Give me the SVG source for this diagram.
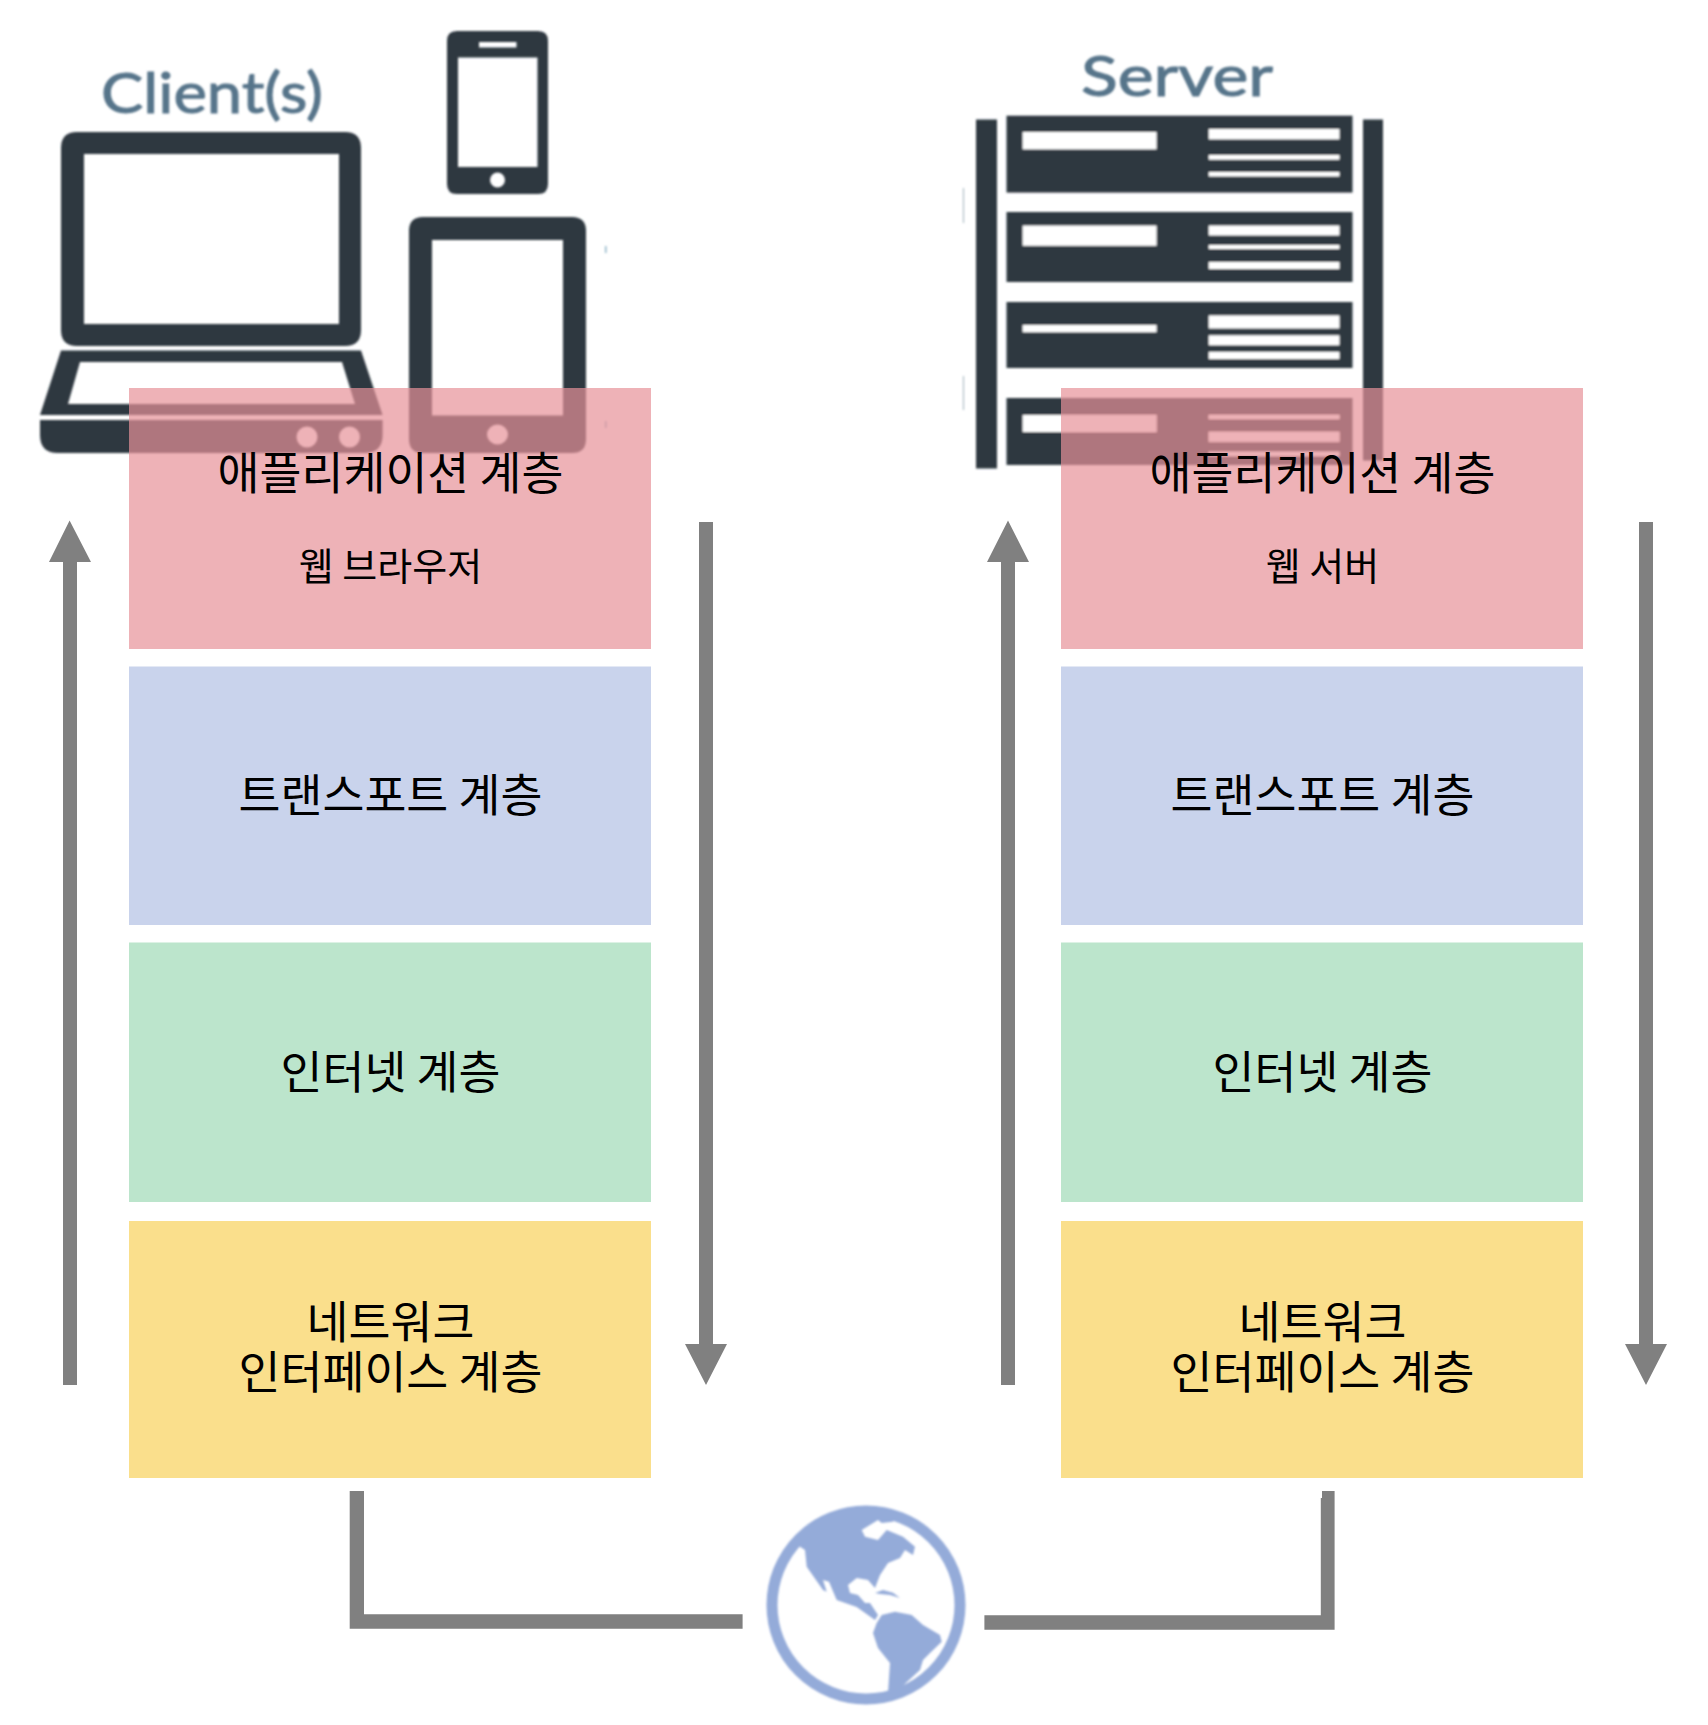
<svg xmlns="http://www.w3.org/2000/svg" xmlns:xlink="http://www.w3.org/1999/xlink" width="1708" height="1725" viewBox="0 0 1708 1725">
<style>
.ic{fill:#2d3740}
.hole{fill:#fff}
.lb{font-family:"Noto Sans CJK KR","Noto Sans",sans-serif;font-size:45.6px;fill:#000;text-anchor:middle}
.sm{font-size:38px}
.cap{font-family:"Lato","Open Sans",sans-serif;font-size:56px;fill:#56748a;stroke:#56748a;stroke-width:1;text-anchor:middle}
.ar{fill:#808080}
.gl{fill:#94abd9}
.pink{fill:#e79298;fill-opacity:.7}
.blue{fill:#c9d3ec}
.green{fill:#bce5cc}
.yellow{fill:#fadf8c}
</style>
<defs>
<filter id="soft" x="-5%" y="-5%" width="110%" height="110%"><feGaussianBlur stdDeviation="0.8"/></filter>
<g id="stack">
<rect class="pink" x="129" y="388" width="522" height="261"/>
<rect class="blue" x="129" y="666.500" width="522" height="258.500"/>
<rect class="green" x="129" y="942.500" width="522" height="259.500"/>
<rect class="yellow" x="129" y="1221" width="522" height="257"/>
</g>
</defs>
<g id="client-icons" filter="url(#soft)">
<text class="cap" x="212" y="113" textLength="222" lengthAdjust="spacingAndGlyphs">Client(s)</text>
<path class="ic" fill-rule="evenodd" d="M77 132H345Q361 132 361 148V330Q361 346 345 346H77Q61 346 61 330V148Q61 132 77 132ZM84 154V324H339V154Z"/>
<path class="ic" fill-rule="evenodd" d="M61 350.500H361L382.600 415H40ZM80 362L68 404H355L342 362Z"/>
<path class="ic" fill-rule="evenodd" d="M40 420H382.600V435Q382.600 453 364 453H58Q40 453 40 435ZM317.500 437A10.500 10.500 0 1 0 296.500 437A10.500 10.500 0 1 0 317.500 437ZM360 437A10.500 10.500 0 1 0 339 437A10.500 10.500 0 1 0 360 437Z"/>
<path class="ic" fill-rule="evenodd" d="M457 31H538Q548 31 548 41V184Q548 194 538 194H457Q447 194 447 184V41Q447 31 457 31ZM479 42V47.500H516.500V42ZM458 57.400V167H537.500V57.400ZM505 180A7.500 7.500 0 1 0 490 180A7.500 7.500 0 1 0 505 180Z"/>
<path class="ic" fill-rule="evenodd" d="M423 217H572Q586 217 586 231V439Q586 453 572 453H423Q409 453 409 439V231Q409 217 423 217ZM432 240V415.600H563V240ZM508 434.500A10.500 10 0 1 0 487 434.500A10.500 10 0 1 0 508 434.500Z"/>
<rect x="605" y="246" width="1.500" height="7" fill="#8fb4c8"/>
<rect x="605" y="421" width="1.500" height="7" fill="#8fb4c8"/>
</g>
<g id="server-icons" filter="url(#soft)">
<text class="cap" x="1177" y="96" textLength="192" lengthAdjust="spacingAndGlyphs">Server</text>
<rect class="ic" x="976" y="119.500" width="21" height="349"/>
<rect class="ic" x="1363" y="119.500" width="20" height="341"/>
<rect x="963" y="188" width="1" height="35" fill="#9fb0bb"/>
<rect x="963" y="376" width="1" height="34" fill="#9fb0bb"/>
<rect class="ic" x="1006.500" y="115.700" width="346" height="76.900"/>
<rect class="ic" x="1006.500" y="212" width="346" height="70"/>
<rect class="ic" x="1006.500" y="302" width="346" height="66"/>
<rect class="ic" x="1006.500" y="398" width="346" height="67"/>
<rect class="hole" x="1022.600" y="132" width="134" height="17.400"/>
<rect class="hole" x="1208.700" y="129" width="130.800" height="10.400"/>
<rect class="hole" x="1208.700" y="155" width="130.800" height="4.700"/>
<rect class="hole" x="1208.700" y="172" width="130.800" height="4.500"/>
<rect class="hole" x="1022.600" y="225.500" width="134" height="20.300"/>
<rect class="hole" x="1208.700" y="225.500" width="130.800" height="10"/>
<rect class="hole" x="1208.700" y="245" width="130.800" height="4"/>
<rect class="hole" x="1208.700" y="262" width="130.800" height="7"/>
<rect class="hole" x="1022.600" y="325" width="134" height="7.300"/>
<rect class="hole" x="1208.700" y="315.400" width="130.800" height="13.100"/>
<rect class="hole" x="1208.700" y="335.300" width="130.800" height="10"/>
<rect class="hole" x="1208.700" y="351.800" width="130.800" height="7.200"/>
<rect class="hole" x="1022.600" y="415" width="134" height="17"/>
<rect class="hole" x="1208.700" y="415" width="130.800" height="4"/>
<rect class="hole" x="1208.700" y="431.800" width="130.800" height="10"/>
<rect class="hole" x="1208.700" y="451.700" width="130.800" height="4.300"/>
</g>
<g id="client-stack">
<use xlink:href="#stack" href="#stack"/>
<text class="lb" x="390.500" y="490">애플리케이션 계층</text>
<text class="lb sm" x="390.500" y="580">웹 브라우저</text>
<text class="lb" x="390.500" y="812">트랜스포트 계층</text>
<text class="lb" x="390.500" y="1089">인터넷 계층</text>
<text class="lb" x="390.500" y="1339">네트워크</text>
<text class="lb" x="390.500" y="1389">인터페이스 계층</text>
</g>
<g id="server-stack">
<use xlink:href="#stack" href="#stack" x="932"/>
<text class="lb" x="1322.500" y="490">애플리케이션 계층</text>
<text class="lb sm" x="1322.500" y="580">웹 서버</text>
<text class="lb" x="1322.500" y="812">트랜스포트 계층</text>
<text class="lb" x="1322.500" y="1089">인터넷 계층</text>
<text class="lb" x="1322.500" y="1339">네트워크</text>
<text class="lb" x="1322.500" y="1389">인터페이스 계층</text>
</g>
<g id="globe" filter="url(#soft)">
<circle cx="866" cy="1605" r="94" fill="none" stroke="#94abd9" stroke-width="11"/>
<path class="gl" d="M800 1546.700L805 1550L806.700 1566.700L823 1590L826.700 1591.700L823 1580L829 1581.700L836.700 1600L856.700 1607L875 1620L878 1615L870 1603L865 1603L858 1595L850 1593L848 1585L856.700 1578L868 1580L875 1588L880 1575L888 1563L900 1558L905 1550L913 1555L915 1546.700L903 1536.700L886.700 1530L878 1540L865 1536.700L861.700 1530L878 1520L881.700 1523L893 1521.700L896 1514L870 1508L825 1515L795 1540Z"/>
<path class="gl" d="M876.700 1623L881.700 1615L895 1611.700L911.700 1615L923 1625L940 1635L941.700 1641.700L930 1653L923 1660L920 1670L901.700 1686.700L900 1697L886 1699L888 1693L890 1663L878 1648L873 1633Z"/>
<path class="gl" d="M875 1593L883 1590L893 1592.700L900 1598L890 1595L880 1594Z"/>
</g>
<g id="connectors">
<path class="ar" d="M63 1385V562H49L69.600 520.500L91 562H77V1385Z"/>
<path class="ar" d="M699 522H713V1344H727L706 1385L685 1344H699Z"/>
<path class="ar" d="M1001 1385V562H987L1008 520.500L1029 562H1015V1385Z"/>
<path class="ar" d="M1639 522H1653V1344H1667L1646 1385L1625 1344H1639Z"/>
<path class="ar" d="M349.700 1491H364V1614.300H742.600V1628.700H349.700Z"/>
<path class="ar" d="M1322 1491H1334.600V1629.700H984.400V1615.300H1320.800V1498H1322Z"/>
</g>
</svg>
